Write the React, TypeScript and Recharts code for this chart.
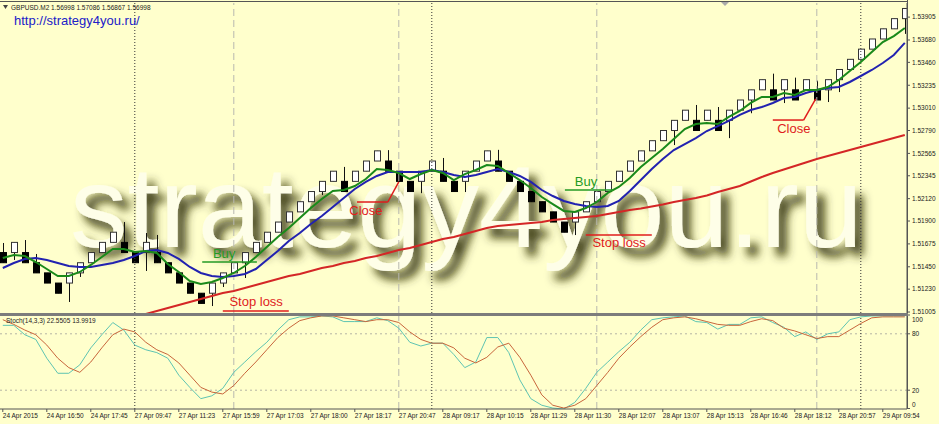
import React from "react";
import {
  ComposedChart,
  Bar,
  Line,
  XAxis,
  YAxis,
  ReferenceLine,
  ReferenceDot,
  Customized,
} from "recharts";

const FONT = "'Liberation Sans', Arial, sans-serif";
const BG = "#ffffcc";

// renko-like bricks, GBPUSD M2
const opens = [
  1.5159, 1.5159, 1.5159, 1.5149, 1.5139, 1.5129, 1.5129, 1.5139, 1.5149, 1.5159,
  1.5169, 1.5169, 1.5159, 1.5159, 1.5159, 1.5149, 1.5139, 1.5129, 1.5119, 1.5119,
  1.5129, 1.5139, 1.5149, 1.5159, 1.5169, 1.5179, 1.5189, 1.5199, 1.5209, 1.5219,
  1.5229, 1.5229, 1.5229, 1.5239, 1.5249, 1.5249, 1.5239, 1.5229, 1.5229, 1.5239,
  1.5239, 1.5229, 1.5229, 1.5239, 1.5249, 1.5249, 1.5239, 1.5229, 1.5219, 1.5209,
  1.5199, 1.5189, 1.5189, 1.5199, 1.5209, 1.5219, 1.5229, 1.5239, 1.5249, 1.5259,
  1.5269, 1.5279, 1.5289, 1.5289, 1.5289, 1.5289, 1.5289, 1.5299, 1.5309, 1.5319,
  1.5319, 1.5319, 1.5319, 1.5319, 1.5319, 1.5319, 1.5329, 1.5339, 1.5349, 1.5359,
  1.5369, 1.5379, 1.5389,
];
const closes = [
  1.5149, 1.5169, 1.5149, 1.5139, 1.5129, 1.5119, 1.5139, 1.5149, 1.5159, 1.5169,
  1.5179, 1.5159, 1.5149, 1.5169, 1.5149, 1.5139, 1.5129, 1.5119, 1.5109, 1.5129,
  1.5139, 1.5149, 1.5159, 1.5169, 1.5179, 1.5189, 1.5199, 1.5209, 1.5219, 1.5229,
  1.5239, 1.5219, 1.5239, 1.5249, 1.5259, 1.5239, 1.5229, 1.5219, 1.5239, 1.5249,
  1.5229, 1.5219, 1.5239, 1.5249, 1.5259, 1.5239, 1.5229, 1.5219, 1.5209, 1.5199,
  1.5189, 1.5179, 1.5199, 1.5209, 1.5219, 1.5229, 1.5239, 1.5249, 1.5259, 1.5269,
  1.5279, 1.5289, 1.5299, 1.5279, 1.5299, 1.5279, 1.5299, 1.5309, 1.5319, 1.5329,
  1.5309, 1.5329, 1.5309, 1.5329, 1.5309, 1.5329, 1.5339, 1.5349, 1.5359, 1.5369,
  1.5379, 1.5389, 1.5399,
];
const highs = [
  1.51684, 1.5169, 1.51713, 1.51576, 1.5139, 1.5129, 1.5139, 1.5149, 1.5159, 1.5169,
  1.5179, 1.5189, 1.5159, 1.51782, 1.51763, 1.5149, 1.5139, 1.5129, 1.5119, 1.5129,
  1.5139, 1.5149, 1.5159, 1.5169, 1.5179, 1.5189, 1.5199, 1.5209, 1.5219, 1.5229,
  1.5239, 1.52432, 1.5239, 1.5249, 1.5259, 1.52597, 1.5239, 1.5229, 1.5239, 1.5249,
  1.5252, 1.5229, 1.5239, 1.5249, 1.5259, 1.526, 1.5239, 1.5229, 1.5219, 1.5209,
  1.5199, 1.5189, 1.5199, 1.5209, 1.5219, 1.5229, 1.5239, 1.5249, 1.5259, 1.5269,
  1.5279, 1.5289, 1.5299, 1.53041, 1.5299, 1.53021, 1.5299, 1.5309, 1.5319, 1.5329,
  1.53349, 1.5329, 1.5331, 1.5329, 1.5328, 1.5329, 1.5339, 1.5349, 1.5359, 1.5369,
  1.5379, 1.5389, 1.5399,
];
const lows = [
  1.5149, 1.51517, 1.5149, 1.5139, 1.5129, 1.5119, 1.51104, 1.5135, 1.5149, 1.5159,
  1.5169, 1.5159, 1.5149, 1.51409, 1.5149, 1.5139, 1.5129, 1.5119, 1.5109, 1.51064,
  1.51251, 1.5139, 1.5134, 1.5159, 1.5169, 1.5179, 1.5189, 1.5199, 1.5209, 1.52156,
  1.5229, 1.5219, 1.5229, 1.5239, 1.5249, 1.5239, 1.5229, 1.5219, 1.52174, 1.5239,
  1.5229, 1.5219, 1.52185, 1.5239, 1.5249, 1.5239, 1.5229, 1.5219, 1.5209, 1.5199,
  1.5189, 1.5179, 1.51762, 1.5199, 1.5209, 1.5219, 1.5229, 1.5239, 1.5249, 1.5259,
  1.5269, 1.52647, 1.5289, 1.5279, 1.5289, 1.5279, 1.52715, 1.5299, 1.5296, 1.5319,
  1.5309, 1.5306, 1.5309, 1.5319, 1.5309, 1.5307, 1.53168, 1.5339, 1.5349, 1.5359,
  1.5369, 1.5379, 1.5374,
];

// moving averages
const fastMA = [
  1.51536, 1.51566, 1.51556, 1.51497, 1.51428, 1.51359, 1.51359, 1.51399, 1.51468, 1.51546,
  1.51625, 1.51625, 1.51595, 1.51605, 1.51586, 1.51477, 1.51399, 1.5131, 1.51281, 1.513,
  1.5134, 1.51389, 1.51458, 1.51546, 1.51645, 1.51743, 1.51831, 1.5193, 1.52028, 1.52117,
  1.52195, 1.52205, 1.52244, 1.52313, 1.52412, 1.52402, 1.52372, 1.52313, 1.52362, 1.52402,
  1.52372, 1.52303, 1.52362, 1.52402, 1.52451, 1.52441, 1.52372, 1.52303, 1.52225, 1.52136,
  1.52067, 1.51999, 1.51989, 1.52028, 1.52087, 1.52176, 1.52235, 1.52323, 1.52431, 1.5252,
  1.52608, 1.52707, 1.52805, 1.52854, 1.52864, 1.52854, 1.52923, 1.52982, 1.53061, 1.5312,
  1.5312, 1.53159, 1.53139, 1.53188, 1.53188, 1.53218, 1.53287, 1.53375, 1.53464, 1.53562,
  1.5366, 1.53719, 1.53798,
];
const midMA = [
  1.51438, 1.51487, 1.51527, 1.51536, 1.51517, 1.51487, 1.51458, 1.51448, 1.51448, 1.51468,
  1.51487, 1.51517, 1.51556, 1.51605, 1.51615, 1.51586, 1.51527, 1.51448, 1.51389, 1.51359,
  1.5135, 1.51359, 1.51379, 1.51428, 1.51517, 1.51605, 1.51704, 1.51782, 1.51871, 1.51949,
  1.52038, 1.52126, 1.52215, 1.52284, 1.52343, 1.52382, 1.52382, 1.52382, 1.52382, 1.52402,
  1.52382, 1.52353, 1.52333, 1.52353, 1.52382, 1.52412, 1.52382, 1.52343, 1.52284, 1.52205,
  1.52146, 1.52097, 1.52067, 1.52048, 1.52038, 1.52048, 1.52097, 1.52195, 1.52303, 1.52412,
  1.5251, 1.52598, 1.52657, 1.52716, 1.52785, 1.52834, 1.52884, 1.52943, 1.52992, 1.53021,
  1.53061, 1.5311, 1.5312, 1.53159, 1.53188, 1.53208, 1.53218, 1.53267, 1.53326, 1.53385,
  1.53454, 1.53533, 1.53651,
];
const slowMA = [
  null, null, null, null, null, null, null, null, null, null,
  null, null, null, 1.50986, 1.51015, 1.51045, 1.51074, 1.51104, 1.51133, 1.51163,
  1.51192, 1.51212, 1.51241, 1.51271, 1.513, 1.5133, 1.51359, 1.51379, 1.51409, 1.51438,
  1.51458, 1.51487, 1.51507, 1.51536, 1.51556, 1.51586, 1.51615, 1.51635, 1.51664, 1.51694,
  1.51723, 1.51743, 1.51772, 1.51802, 1.51831, 1.51851, 1.51861, 1.51871, 1.51881, 1.5189,
  1.5191, 1.5192, 1.5193, 1.5194, 1.51949, 1.51969, 1.51989, 1.52008, 1.52023, 1.52043,
  1.52063, 1.52087, 1.52107, 1.52126, 1.52151, 1.52185, 1.52215, 1.52244, 1.52289, 1.52333,
  1.52372, 1.52407, 1.52441, 1.52476, 1.5251, 1.52539, 1.52569, 1.52598, 1.52628, 1.52657,
  1.52687, 1.52716, 1.52746,
];

// Stoch(14,3,3)
const stochMain = [
  89, 89, 79, 74, 54, 38, 38, 47, 65, 79,
  92, 84, 68, 63, 60, 54, 36, 23, 11, 14,
  22, 39, 50, 61, 71, 84, 95, 98, 98, 99,
  98, 93, 93, 93, 97, 94, 86, 71, 67, 70,
  70, 58, 44, 50, 76, 76, 60, 31, 11, 4,
  1, 0, 7, 22, 39, 50, 61, 71, 84, 95,
  97, 98, 99, 93, 92, 85, 90, 90, 97, 98,
  92, 87, 77, 82, 74, 80, 82, 95, 98, 99,
  99, 99, 99,
];
const stochSignal = [
  95, 90, 84, 79, 68, 54, 44, 39, 50, 65,
  79, 85, 82, 71, 63, 58, 49, 36, 23, 18,
  16, 25, 38, 50, 63, 76, 86, 94, 97, 99,
  99, 97, 95, 93, 95, 95, 92, 82, 74, 70,
  70, 65, 54, 49, 55, 66, 70, 55, 36, 15,
  4, 1, 4, 11, 25, 39, 54, 66, 77, 87,
  95, 97, 98, 96, 93, 90, 89, 89, 93, 96,
  94, 86, 83, 79, 75, 77, 77, 84, 91, 97,
  98, 98, 98,
];

const timeLabels = [
  "24 Apr 2015", "24 Apr 16:50", "24 Apr 17:45", "27 Apr 09:47", "27 Apr 11:23",
  "27 Apr 15:59", "27 Apr 17:03", "27 Apr 18:00", "27 Apr 18:17", "27 Apr 20:47",
  "28 Apr 09:17", "28 Apr 10:15", "28 Apr 11:29", "28 Apr 11:30", "28 Apr 12:07",
  "28 Apr 13:07", "28 Apr 15:13", "28 Apr 16:46", "28 Apr 18:12", "28 Apr 20:57",
  "29 Apr 09:54",
];
const labelBars = timeLabels.map((_, i) => i * 4);

const priceTicks = [
  1.53905, 1.5368, 1.5346, 1.53235, 1.5301, 1.5279, 1.52565, 1.52345, 1.5212,
  1.519, 1.51675, 1.5145, 1.5123, 1.51005,
];
const stochTicks = [20, 80, 100];
const daySeparators = [12, 39, 78];
const markerLines = [21, 36, 54, 74];

const X_DOMAIN: [number, number] = [-0.2545, 82.2];
const P_DOMAIN: [number, number] = [1.509956, 1.540438];

const data = opens.map((o, i) => ({
  idx: i,
  open: o,
  close: closes[i],
  high: highs[i],
  low: lows[i],
  range: [lows[i], highs[i]],
  fast: fastMA[i],
  mid: midMA[i],
  slow: slowMA[i],
}));

const stochData = stochMain.map((k, i) => ({ idx: i, k, d: stochSignal[i] }));

const Candle = (props: any) => {
  const { x, y, width, height, payload } = props;
  if (!payload || width == null) return null;
  const { open, close, high, low } = payload;
  const top = Math.min(y, y + height);
  const h = Math.abs(height);
  const k = h / (high - low);
  const bTop = top + (high - Math.max(open, close)) * k;
  const bBot = top + (high - Math.min(open, close)) * k;
  const c = Math.round(x + width / 2);
  const up = close > open;
  return (
    <g>
      <line x1={c + 0.5} x2={c + 0.5} y1={top} y2={top + h} stroke="#111" strokeWidth={1} />
      <rect
        x={c - 2.5}
        y={bTop}
        width={6}
        height={bBot - bTop}
        fill={up ? "#ffffff" : "#000000"}
        stroke={up ? "#333" : "#000"}
        strokeWidth={1}
      />
    </g>
  );
};

const PriceTick = (props: any) => {
  const { x, y, payload } = props;
  return (
    <text x={x} y={y + 2.3} fontSize={6.5} fontFamily={FONT} fill="#222" textAnchor="start">
      {Number(payload.value).toFixed(5)}
    </text>
  );
};

// MT4 pulls the top label inside the window
const StochTick = (props: any) => {
  const { x, y, payload } = props;
  const v = Math.round(Number(payload.value));
  const ty = v >= 100 ? y + 7 : y + 2.3;
  return (
    <text x={x} y={ty} fontSize={6.5} fontFamily={FONT} fill="#222" textAnchor="start">
      {String(v)}
    </text>
  );
};

const TimeTick = (props: any) => {
  const { x, y, payload } = props;
  return (
    <text x={x} y={y + 3.5} fontSize={6.5} fontFamily={FONT} fill="#222" textAnchor="start">
      {timeLabels[payload.value / 4]}
    </text>
  );
};

const Watermark = () => (
  <g pointerEvents="none">
    <defs>
      <filter id="wmShadow" x="-5%" y="-40%" width="115%" height="190%">
        <feGaussianBlur in="SourceAlpha" stdDeviation="5" result="blur" />
        <feOffset in="blur" dx="8" dy="9" result="off" />
        <feFlood floodColor="#36360c" floodOpacity="0.95" />
        <feComposite in2="off" operator="in" result="shadow" />
        <feMerge>
          <feMergeNode in="shadow" />
          <feMergeNode in="SourceGraphic" />
        </feMerge>
      </filter>
    </defs>
    <text x={70} y={247} fontSize={115} fontFamily={FONT} fill="#fefee8" filter="url(#wmShadow)">
      strategy4you.ru
    </text>
  </g>
);

const noteText = (label: string, color: string) => (p: any) =>
  (
    <text x={p.cx} y={p.cy} fontSize={13} fontFamily={FONT} fill={color}>
      {label}
    </text>
  );

const GREEN = "#249a24";
const RED = "#e01c1c";

export default function App() {
  return (
    <div style={{ position: "absolute", left: 0, top: 0, width: 939, height: 424, background: BG, overflow: "hidden" }}>
      <div style={{ position: "absolute", left: 0, top: 0 }}>
        <ComposedChart width={939} height={316} data={data} margin={{ top: 3, right: 0, bottom: 3, left: 0 }}>
          <XAxis type="number" dataKey="idx" domain={X_DOMAIN} allowDataOverflow hide />
          <YAxis
            orientation="right"
            width={32}
            domain={P_DOMAIN}
            allowDataOverflow
            ticks={priceTicks}
            interval={0}
            tick={<PriceTick />}
            tickSize={3}
            tickLine={{ stroke: "#555" }}
            axisLine={{ stroke: "#555" }}
          />
          {markerLines.map((m) => (
            <ReferenceLine key={`m${m}`} x={m} stroke="#b8b8b0" strokeDasharray="7 4" />
          ))}
          {daySeparators.map((d) => (
            <ReferenceLine key={`d${d}`} x={d} stroke="#333" strokeDasharray="1 2" />
          ))}
          <Bar dataKey="range" barSize={7} shape={<Candle />} isAnimationActive={false} />
          <Customized component={<Watermark />} />
          <Line type="linear" dataKey="slow" stroke="#d42626" strokeWidth={2} dot={false} isAnimationActive={false} connectNulls={false} />
          <Line type="linear" dataKey="mid" stroke="#2222b0" strokeWidth={2} dot={false} isAnimationActive={false} />
          <Line type="linear" dataKey="fast" stroke="#1a8a1a" strokeWidth={2} dot={false} isAnimationActive={false} />

          <ReferenceLine segment={[{ x: 18.13, y: 1.51497 }, { x: 23.1, y: 1.51497 }]} stroke={GREEN} strokeWidth={1.5} />
          <ReferenceDot x={19.1} y={1.51536} r={1} shape={noteText("Buy", GREEN)} />
          <ReferenceLine segment={[{ x: 51.1, y: 1.52205 }, { x: 55.5, y: 1.52205 }]} stroke={GREEN} strokeWidth={1.5} />
          <ReferenceDot x={52.0} y={1.52244} r={1} shape={noteText("Buy", GREEN)} />

          <ReferenceLine segment={[{ x: 20.0, y: 1.51015 }, { x: 26.0, y: 1.51015 }]} stroke={RED} strokeWidth={1.5} />
          <ReferenceDot x={20.6} y={1.51064} r={1} shape={noteText("Stop loss", RED)} />
          <ReferenceLine segment={[{ x: 53.0, y: 1.51763 }, { x: 59.0, y: 1.51763 }]} stroke={RED} strokeWidth={1.5} />
          <ReferenceDot x={53.6} y={1.51645} r={1} shape={noteText("Stop loss", RED)} />

          <ReferenceLine segment={[{ x: 32.2, y: 1.52087 }, { x: 35.0, y: 1.52087 }]} stroke={RED} strokeWidth={1.5} />
          <ReferenceLine segment={[{ x: 35.0, y: 1.52087 }, { x: 36.0, y: 1.52284 }]} stroke={RED} strokeWidth={1.5} />
          <ReferenceDot x={31.5} y={1.51959} r={1} shape={noteText("Close", RED)} />
          <ReferenceLine segment={[{ x: 70.0, y: 1.52893 }, { x: 72.8, y: 1.52893 }]} stroke={RED} strokeWidth={1.5} />
          <ReferenceLine segment={[{ x: 72.8, y: 1.52893 }, { x: 73.9, y: 1.531 }]} stroke={RED} strokeWidth={1.5} />
          <ReferenceDot x={70.4} y={1.52765} r={1} shape={noteText("Close", RED)} />
        </ComposedChart>
      </div>

      <div style={{ position: "absolute", left: 0, top: 313 }}>
        <ComposedChart width={939} height={111} data={stochData} margin={{ top: 2, right: 0, bottom: 0, left: 0 }}>
          <XAxis
            type="number"
            dataKey="idx"
            domain={X_DOMAIN}
            allowDataOverflow
            ticks={labelBars}
            interval={0}
            tick={<TimeTick />}
            height={15}
            tickSize={3}
            tickLine={{ stroke: "#555" }}
            axisLine={{ stroke: "#555" }}
          />
          <YAxis
            orientation="right"
            width={32}
            domain={[0, 100]}
            allowDataOverflow
            ticks={stochTicks}
            interval={0}
            tick={<StochTick />}
            tickSize={3}
            tickLine={{ stroke: "#555" }}
            axisLine={{ stroke: "#555" }}
          />
          <ReferenceLine y={80} stroke="#b4b4a4" strokeDasharray="2 3" />
          <ReferenceLine y={20} stroke="#b4b4a4" strokeDasharray="2 3" />
          {markerLines.map((m) => (
            <ReferenceLine key={`sm${m}`} x={m} stroke="#b8b8b0" strokeDasharray="7 4" />
          ))}
          {daySeparators.map((d) => (
            <ReferenceLine key={`sd${d}`} x={d} stroke="#333" strokeDasharray="1 2" />
          ))}
          <Line type="linear" dataKey="k" stroke="#5ec4b2" strokeWidth={1} dot={false} isAnimationActive={false} />
          <Line type="linear" dataKey="d" stroke="#c8663c" strokeWidth={1} dot={false} isAnimationActive={false} />
        </ComposedChart>
      </div>

      <svg width={939} height={424} style={{ position: "absolute", left: 0, top: 0, pointerEvents: "none" }}>
        <line x1={0} x2={907} y1={1.5} y2={1.5} stroke="#555" />
        <line x1={907.5} x2={907.5} y1={0} y2={409} stroke="#555" />
        <line x1={907} x2={910} y1={408.5} y2={408.5} stroke="#555" />
        <rect x={0} y={313} width={908} height={3} fill="#7c7c7c" />
        <path d="M3,5 L8,5 L5.5,9 Z" fill="#444" />
        <text x={11} y={10} fontSize={6.5} fontFamily={FONT} fill="#222">
          GBPUSD.M2  1.56998 1.57086 1.56867 1.56998
        </text>
        <text x={14} y={25} fontSize={13} fontFamily={FONT} fill="#2020c8">
          http://strategy4you.ru/
        </text>
        <path d="M721,2 L729,2 L725,6 Z" fill="#aaa" />
        <text x={6} y={323} fontSize={6.5} fontFamily={FONT} fill="#222">
          Stoch(14,3,3) 22.5505 13.9919
        </text>
        <text x={912} y={407} fontSize={6.5} fontFamily={FONT} fill="#222">
          0
        </text>
      </svg>
    </div>
  );
}
